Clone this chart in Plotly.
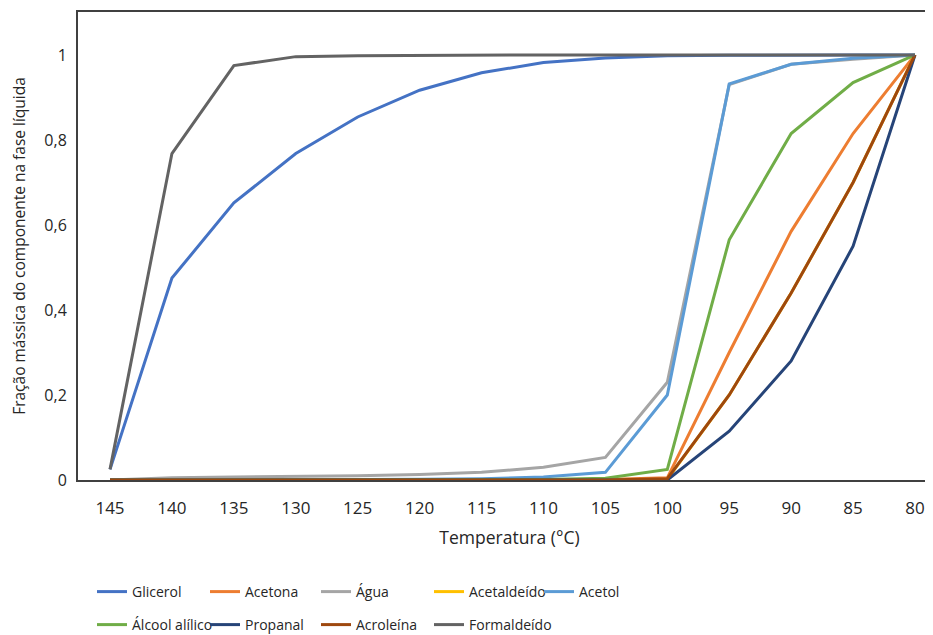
import plotly.graph_objects as go

temperatures = ["145", "140", "135", "130", "125", "120", "115", "110", "105", "100", "95", "90", "85", "80"]

glicerol = [0.025, 0.475, 0.652, 0.768, 0.854, 0.917, 0.958, 0.982, 0.993, 0.998, 0.999, 1.0, 1.0, 1.0]
acetona = [0, 0, 0, 0, 0, 0, 0, 0, 0.001, 0.005, 0.30, 0.585, 0.815, 1.0]
agua = [0, 0.005, 0.007, 0.008, 0.010, 0.013, 0.018, 0.030, 0.053, 0.230, 0.93, 0.978, 0.99, 1.0]
acetaldeido = [0, 0, 0, 0, 0, 0, 0, 0, 0, 0.002, 0.20, 0.44, 0.70, 1.0]
acetol = [0, 0, 0, 0.001, 0.001, 0.002, 0.003, 0.007, 0.018, 0.200, 0.932, 0.978, 0.992, 1.0]
alcool_alilico = [0, 0, 0, 0, 0, 0, 0, 0.001, 0.004, 0.025, 0.565, 0.815, 0.935, 1.0]
propanal = [0, 0, 0, 0, 0, 0, 0, 0, 0, 0, 0.115, 0.28, 0.55, 1.0]
acroleina = [0, 0, 0, 0, 0, 0, 0, 0, 0, 0.003, 0.20, 0.44, 0.70, 1.0]
formaldeido = [0.025, 0.768, 0.975, 0.996, 0.998, 0.999, 1.0, 1.0, 1.0, 1.0, 1.0, 1.0, 1.0, 1.0]

names = ["Glicerol", "Acetona", "Água", "Acetaldeído", "Acetol",
         "Álcool alílico", "Propanal", "Acroleína", "Formaldeído"]
values = [glicerol, acetona, agua, acetaldeido, acetol,
          alcool_alilico, propanal, acroleina, formaldeido]
colors = ["#4472C4", "#ED7D31", "#A5A5A5", "#FFC000", "#5B9BD5",
          "#70AD47", "#264478", "#9E480E", "#636363"]

y_ticks = [0, 0.2, 0.4, 0.6, 0.8, 1]
y_ticktext = ["0", "0,2", "0,4", "0,6", "0,8", "1"]

# legend entry positions (container pixels)
legend_x = [84, 197, 308, 421, 531, 84, 197, 308, 421]
legend_y = [584, 584, 584, 584, 584, 617, 617, 617, 617]

W, H = 933, 635
font_family = "Open Sans, Liberation Sans, sans-serif"

fig = go.Figure()
legend_layouts = {}
for i, (name, vals, color) in enumerate(zip(names, values, colors)):
    key = "legend" if i == 0 else f"legend{i + 1}"
    fig.add_trace(go.Scatter(
        x=list(range(len(temperatures))), y=vals, mode="lines", name=name,
        line=dict(color=color, width=3), legend=key, showlegend=True,
    ))
    legend_layouts[key] = dict(
        x=legend_x[i] / W, y=1 - legend_y[i] / H,
        orientation="h", xanchor="left", yanchor="middle",
        xref="container", yref="container", itemwidth=30,
        font=dict(family=font_family, size=14, color="#262626"),
        bgcolor="rgba(0,0,0,0)", visible=True,
    )

fig.update_layout(
    width=W, height=H, showlegend=True,
    margin=dict(l=70, r=0, t=4, b=163, autoexpand=False),
    plot_bgcolor="white", paper_bgcolor="white",
    font=dict(family=font_family, size=14, color="#262626"),
    xaxis=dict(
        tickmode="array", tickvals=list(range(len(temperatures))), ticktext=temperatures,
        range=[-0.517, 13.42], showgrid=False, zeroline=False, automargin=False,
        showline=True, linecolor="#404040", linewidth=2, mirror=True, ticks="",
        ticklabelstandoff=12,
        title=dict(text="Temperatura (°C)", font=dict(size=17.5), standoff=13),
        tickfont=dict(size=17),
    ),
    yaxis=dict(
        tickmode="array", tickvals=y_ticks, ticktext=y_ticktext,
        range=[0, 1.101], showgrid=False, zeroline=False, automargin=False,
        showline=True, linecolor="#404040", linewidth=2, ticks="",
        ticklabelstandoff=6,
        title=dict(text="Fração mássica do componente na fase líquida", font=dict(size=15.5), standoff=19),
        tickfont=dict(size=16),
    ),
    **legend_layouts,
)

fig.write_html("out.html")
